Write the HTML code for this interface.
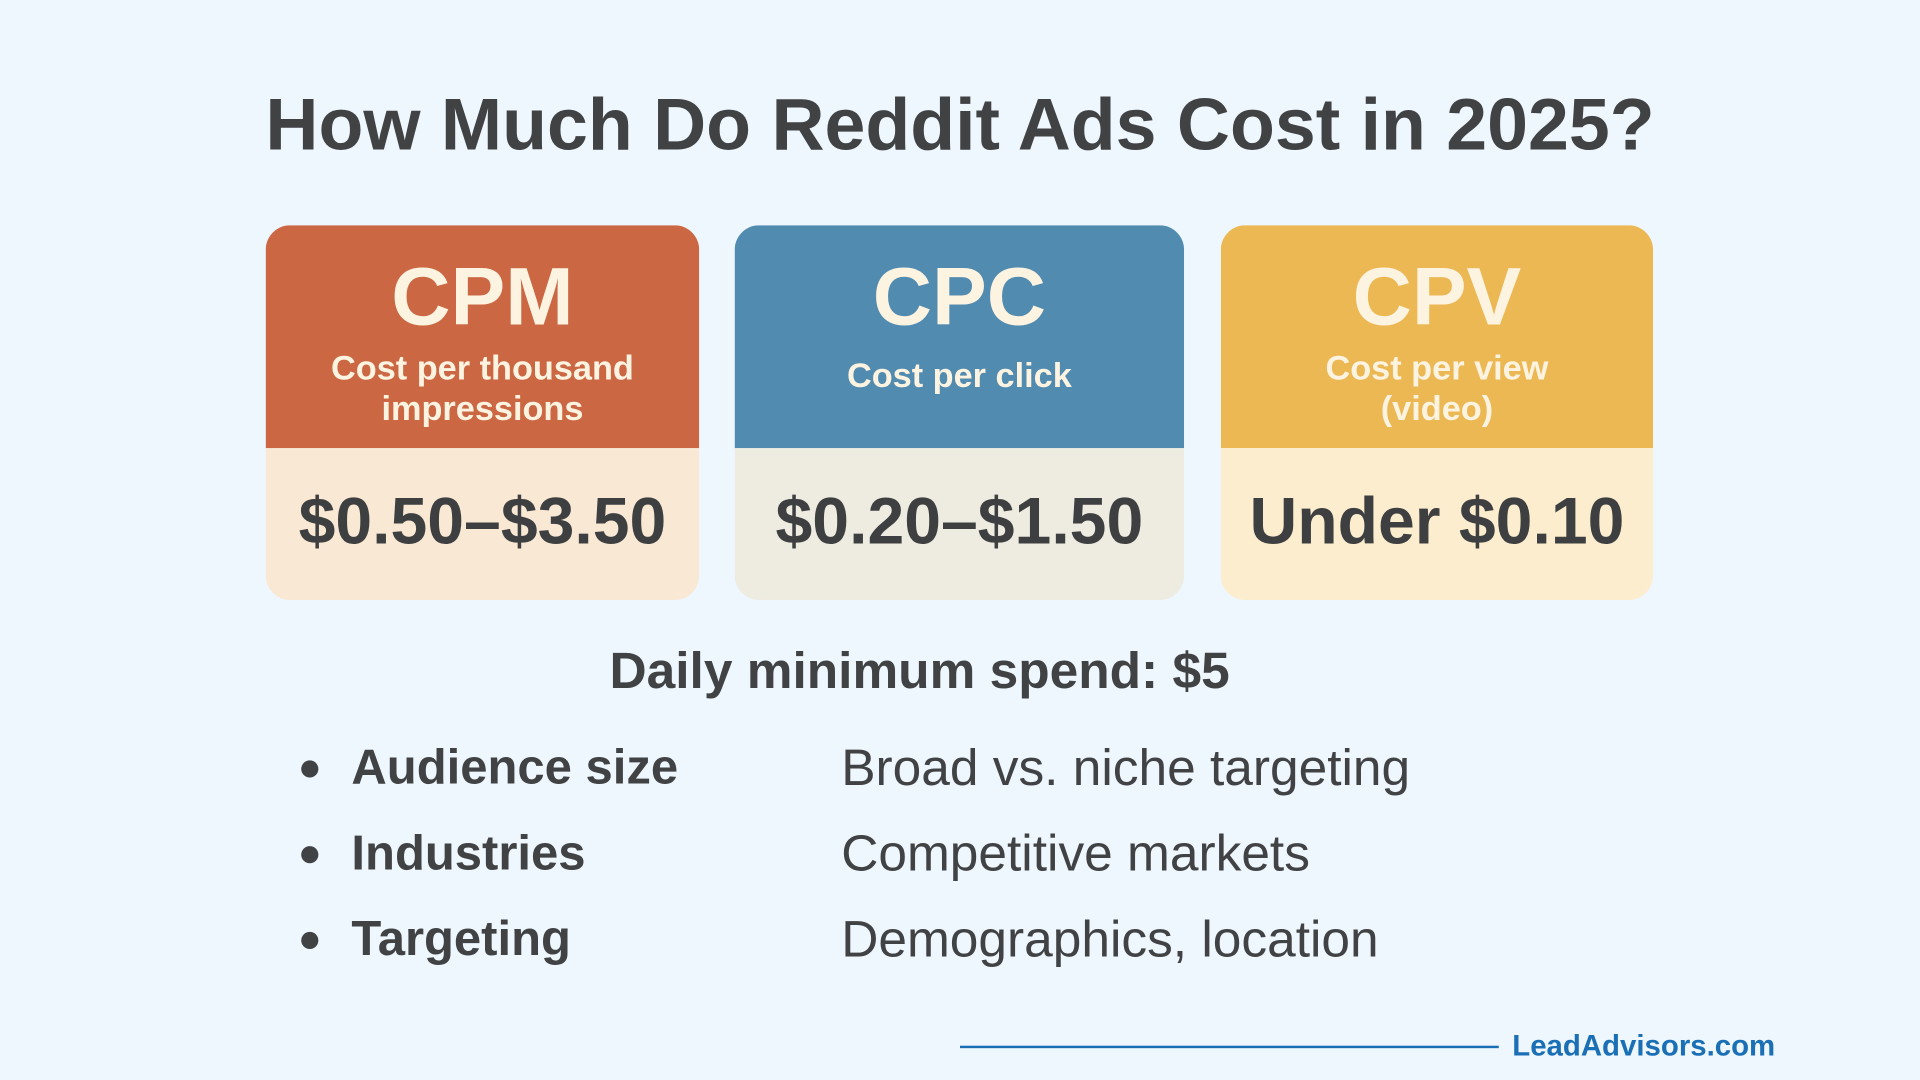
<!DOCTYPE html>
<html><head><meta charset="utf-8"><style>
html,body{margin:0;padding:0;width:1920px;height:1080px;overflow:hidden;background:#EEF6FE;}
#s{position:absolute;left:0;top:0;width:1568px;height:882px;transform:scale(1.22449);transform-origin:0 0;font-family:"Liberation Sans",sans-serif;color:#404244;}
.a{position:absolute;}
.c{text-align:center;white-space:nowrap;}
.card{position:absolute;top:184px;height:306px;border-radius:20px;overflow:hidden;}
.hd{position:absolute;left:0;right:0;top:0;height:182px;}
.bd{position:absolute;left:0;right:0;top:182px;bottom:0;}
.big{position:absolute;left:0;right:0;top:206px;text-align:center;font-weight:bold;font-size:67px;line-height:74px;color:#FDF3E1;}
.sub{position:absolute;left:0;right:0;text-align:center;font-weight:bold;font-size:28px;line-height:33px;color:#FDF3E1;}
.val{position:absolute;left:0;right:0;top:394px;text-align:center;font-weight:bold;font-size:54px;line-height:64px;color:#3E3F40;}
.lab{font-size:40px;font-weight:bold;left:287px;line-height:44px;}
.txt{font-size:42px;left:687px;line-height:44px;}
.dot{width:14px;height:14px;border-radius:50%;background:#404244;left:246px;}
</style></head><body><div id="s">
<div class="a c" style="left:0;width:1568px;top:67px;font-size:60px;font-weight:bold;line-height:70px;">How Much Do Reddit Ads Cost in 2025?</div>

<div class="card" style="left:217px;width:354px;top:184px"><div class="hd" style="background:#CB6843"></div><div class="bd" style="background:#F9E8D4"></div></div>
<div class="card" style="left:600px;width:367px;top:184px"><div class="hd" style="background:#528BB0"></div><div class="bd" style="background:#EEEBE0"></div></div>
<div class="card" style="left:997px;width:353px;top:184px"><div class="hd" style="background:#ECB854"></div><div class="bd" style="background:#FCEDCE"></div></div>

<div class="a" style="left:217px;width:354px;top:0;height:882px">
<div class="big">CPM</div>
<div class="sub" style="top:284px">Cost per thousand<br>impressions</div>
<div class="val">$0.50–$3.50</div></div>
<div class="a" style="left:600px;width:367px;top:0;height:882px">
<div class="big">CPC</div>
<div class="sub" style="top:290px">Cost per click</div>
<div class="val">$0.20–$1.50</div></div>
<div class="a" style="left:997px;width:353px;top:0;height:882px">
<div class="big">CPV</div>
<div class="sub" style="top:284px">Cost per view<br>(video)</div>
<div class="val">Under $0.10</div></div>

<div class="a c" style="left:0;width:1502px;top:524px;font-size:42px;font-weight:bold;line-height:48px;">Daily minimum spend: $5</div>

<div class="a dot" style="top:621px"></div>
<div class="a lab" style="top:605px">Audience size</div>
<div class="a txt" style="top:605px">Broad vs. niche targeting</div>
<div class="a dot" style="top:691px"></div>
<div class="a lab" style="top:675px">Industries</div>
<div class="a txt" style="top:675px">Competitive markets</div>
<div class="a dot" style="top:761px"></div>
<div class="a lab" style="top:745px">Targeting</div>
<div class="a txt" style="top:745px">Demographics, location</div>

<div class="a" style="left:784px;top:854px;width:440px;height:2px;background:#1A6FB5"></div>
<div class="a" style="left:1235px;top:840px;font-size:24px;font-weight:bold;color:#1A6FB5;line-height:30px;">LeadAdvisors.com</div>
</div></body></html>
